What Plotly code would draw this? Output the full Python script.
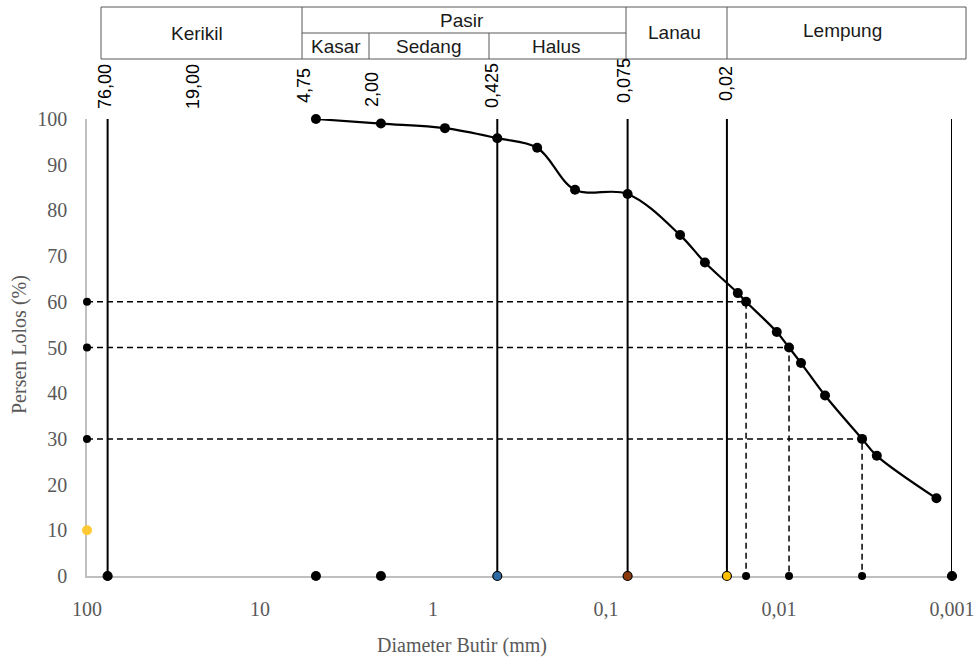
import math
import plotly.graph_objects as go

# ---- data ----
diam = [4.75, 2.00, 0.853, 0.425, 0.25, 0.151, 0.075, 0.0373, 0.0268, 0.0173, 0.0155,
        0.0103, 0.00875, 0.00746, 0.00542, 0.00331, 0.00272, 0.00123]
lolos = [100, 99, 98, 95.8, 93.7, 84.5, 83.6, 74.6, 68.6, 61.9, 60,
         53.4, 50, 46.6, 39.5, 30, 26.3, 17]

sieve_lines = [76.0, 0.425, 0.075, 0.02, 0.001]
sieve_colors = ["black", "#2e6aa3", "#8a3a0c", "#ffc000", "black"]
extra_zero_pts = [4.75, 2.00]

ref_pct = [60, 50, 30]
ref_diam = [0.0155, 0.00875, 0.00331]

yellow_pt = (100, 10)

x_tick_vals = [100, 10, 1, 0.1, 0.01, 0.001]
x_tick_text = ["100", "10", "1", "0,1", "0,01", "0,001"]
y_tick_vals = list(range(0, 101, 10))

top_labels = ["76,00", "19,00", "4,75", "2,00", "0,425", "0,075", "0,02"]

# ---- layout geometry (pixels) ----
W, H = 977, 665
L, R, T, B = 87, 25, 119, 89
PW, PH = W - L - R, H - T - B


def px(xp):
    return (xp - L) / PW


def py(yp):
    return (H - B - yp) / PH


fig = go.Figure()

# vertical sieve lines
for v in sieve_lines:
    fig.add_trace(go.Scatter(x=[v, v], y=[0, 100], mode="lines",
                             line=dict(color="black", width=2),
                             hoverinfo="skip", showlegend=False, cliponaxis=False))

# dashed reference lines
for p, d in zip(ref_pct, ref_diam):
    fig.add_trace(go.Scatter(x=[100, d, d], y=[p, p, 0], mode="lines",
                             line=dict(color="black", width=1.5, dash="6px,4px"),
                             showlegend=False, cliponaxis=False))
    fig.add_trace(go.Scatter(x=[100, d], y=[p, 0], mode="markers",
                             marker=dict(color="black", size=8),
                             showlegend=False, cliponaxis=False))

# grading curve
fig.add_trace(go.Scatter(x=diam, y=lolos, mode="lines+markers",
                         line=dict(color="black", width=2.2, shape="spline", smoothing=1.0),
                         marker=dict(color="black", size=10),
                         showlegend=False, cliponaxis=False))

# markers at bottom of sieve lines
fig.add_trace(go.Scatter(x=sieve_lines, y=[0] * len(sieve_lines), mode="markers",
                         marker=dict(color=sieve_colors, size=9,
                                     line=dict(color="black", width=1.2)),
                         showlegend=False, cliponaxis=False))
fig.add_trace(go.Scatter(x=extra_zero_pts, y=[0] * len(extra_zero_pts), mode="markers",
                         marker=dict(color="black", size=10),
                         showlegend=False, cliponaxis=False))
fig.add_trace(go.Scatter(x=[yellow_pt[0]], y=[yellow_pt[1]], mode="markers",
                         marker=dict(color="#ffc933", size=10),
                         showlegend=False, cliponaxis=False))

# ---- header table ----
grid_col = "#595959"
shapes = []


def hline(x0, x1, y):
    shapes.append(dict(type="line", xref="paper", yref="paper",
                       x0=px(x0), x1=px(x1), y0=py(y), y1=py(y),
                       line=dict(color=grid_col, width=1)))


def vline(x, y0, y1):
    shapes.append(dict(type="line", xref="paper", yref="paper",
                       x0=px(x), x1=px(x), y0=py(y0), y1=py(y1),
                       line=dict(color=grid_col, width=1)))


hline(101, 966, 7)
hline(101, 966, 59)
hline(302, 626, 33)
for xv in [101, 302, 626, 727, 966]:
    vline(xv, 7, 59)
for xv in [369, 489]:
    vline(xv, 33, 59)

annotations = []
hdr_font = dict(family="Liberation Sans, Arial", size=19, color="#1a1a1a")
header_cells = [("Kerikil", 197, 34), ("Pasir", 462, 21), ("Kasar", 336, 47),
                ("Sedang", 429, 47), ("Halus", 556, 47), ("Lanau", 674, 32),
                ("Lempung", 842, 30)]
for txt, xc, yc in header_cells:
    annotations.append(dict(text=txt, xref="paper", yref="paper", x=px(xc), y=py(yc),
                            xanchor="center", yanchor="middle", showarrow=False,
                            font=hdr_font))

top_pos = [(105, 87), (193, 87), (304, 86), (372, 90), (492, 86), (624, 81), (726, 84)]
for txt, (xc, yc) in zip(top_labels, top_pos):
    annotations.append(dict(text=txt, xref="paper", yref="paper", x=px(xc), y=py(yc),
                            xanchor="center", yanchor="middle", showarrow=False,
                            textangle=-90,
                            font=dict(family="Liberation Sans, Arial", size=18, color="black")))

serif = "Liberation Serif, Times New Roman, serif"
annotations.append(dict(text="Diameter Butir (mm)", xref="paper", yref="paper",
                        x=px(462), y=py(645), xanchor="center", yanchor="middle",
                        showarrow=False, font=dict(family=serif, size=20, color="#595959")))
annotations.append(dict(text="Persen Lolos (%)", xref="paper", yref="paper",
                        x=px(19), y=py(345), xanchor="center", yanchor="middle",
                        textangle=-90, showarrow=False,
                        font=dict(family=serif, size=20, color="#595959")))

fig.update_layout(
    width=W, height=H,
    margin=dict(l=L, r=R, t=T, b=B),
    paper_bgcolor="white", plot_bgcolor="white",
    shapes=shapes, annotations=annotations,
    xaxis=dict(type="log", range=[math.log10(100), math.log10(0.001)],
               tickvals=x_tick_vals, ticktext=x_tick_text,
               showgrid=False, zeroline=False, showline=True,
               linecolor="#bfbfbf", linewidth=1.5, ticks="",
               ticklabelstandoff=14, layer="below traces", automargin=False,
               tickfont=dict(family=serif, size=20, color="#595959")),
    yaxis=dict(range=[0, 100], tickvals=y_tick_vals,
               showgrid=False, zeroline=False, showline=True,
               linecolor="#bfbfbf", linewidth=1.5, ticks="",
               ticklabelstandoff=14, layer="below traces", automargin=False,
               tickfont=dict(family=serif, size=20, color="#595959")),
)

fig.write_html("out.html")
